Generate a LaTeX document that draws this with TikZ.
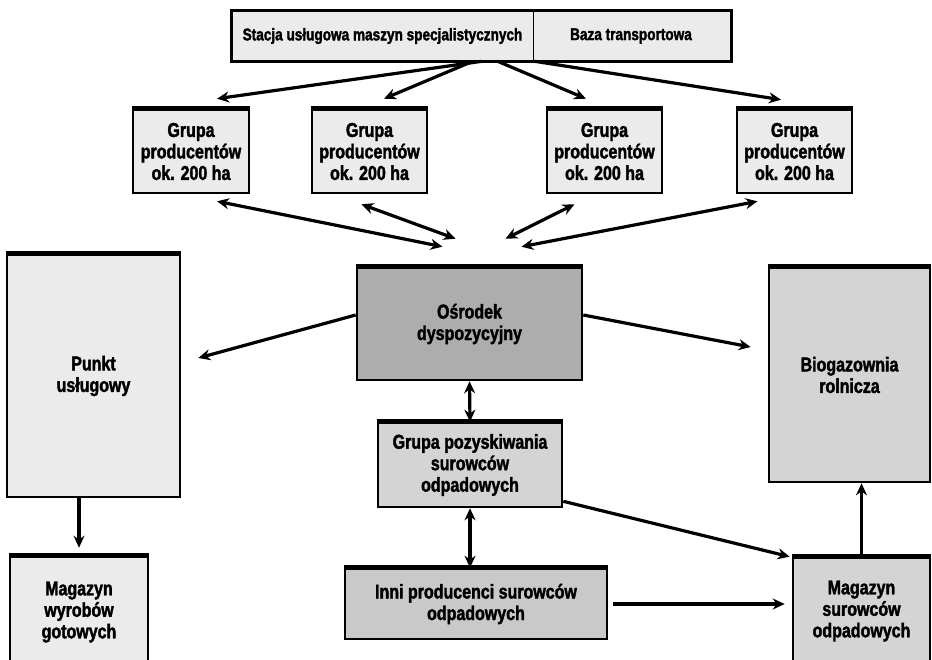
\documentclass[tikz,border=0pt]{standalone}
\usepackage{fontspec}
\setmainfont{Liberation Sans}[BoldFeatures={FakeBold=1.8,FakeStretch=0.8}]
\usepackage{tikz}
\usetikzlibrary{shapes,arrows.meta}

\definecolor{boxlite}{HTML}{EBEBEB}
\definecolor{boxmid}{HTML}{D4D4D4}
\definecolor{boxgrey}{HTML}{C9C9C9}
\definecolor{boxdark}{HTML}{ADADAD}

\begin{document}
\begin{tikzpicture}[x=1pt,y=-1pt]
\tikzstyle{blk}=[draw=black,line width=2.6pt,align=center,inner sep=0pt,font=\fontsize{20}{21.5}\selectfont\bfseries];
\tikzstyle{lite}=[blk,fill=boxlite];
\tikzstyle{mid}=[blk,fill=boxmid];
\tikzstyle{arr}=[line width=3.2pt,-{Stealth[length=12pt,width=11pt]}];
\tikzstyle{darr}=[arr,{Stealth[length=12pt,width=11pt]}-{Stealth[length=12pt,width=11pt]}];

\useasboundingbox (0,0) rectangle (932,659);
\clip (0,0) rectangle (932,659);

% top bar
\node[lite,draw=none,font=\fontsize{17}{18}\selectfont\bfseries,minimum width=299pt,minimum height=48pt] (stacja) at (382.5,36) {Stacja usługowa maszyn specjalistycznych};
\node[lite,draw=none,font=\fontsize{17}{18}\selectfont\bfseries,minimum width=198pt,minimum height=48pt] (baza) at (631,36) {Baza transportowa};
\draw[line width=3.2pt] (stacja.north west) rectangle (baza.south east);
\draw[line width=1pt] (stacja.north east) -- (stacja.south east);

% producer groups
\node[lite,minimum width=116pt,minimum height=83pt] (g1) at (191,151.5) {Grupa\\producentów\\ok. 200 ha};
\node[lite,minimum width=115pt,minimum height=83pt] (g2) at (369.5,151.5) {Grupa\\producentów\\ok. 200 ha};
\node[lite,minimum width=115pt,minimum height=83pt] (g3) at (604.5,151.5) {Grupa\\producentów\\ok. 200 ha};
\node[lite,minimum width=115pt,minimum height=83pt] (g4) at (794.5,151.5) {Grupa\\producentów\\ok. 200 ha};

% middle row
\node[lite,minimum width=173pt,minimum height=242pt] (punkt) at (93.5,376) {Punkt\\usługowy};
\node[blk,fill=boxdark,minimum width=225pt,minimum height=112pt] (osrodek) at (469.5,324) {Ośrodek\\dyspozycyjny};
\node[mid,minimum width=161pt,minimum height=214pt] (biogaz) at (849.5,375) {Biogazownia\\rolnicza};
\node[mid,minimum width=184pt,minimum height=84pt] (pozysk) at (470,465) {Grupa pozyskiwania\\surowców\\odpadowych};

% bottom row
\node[lite,minimum width=138pt,minimum height=110pt] (wyrobow) at (79,612) {Magazyn\\wyrobów\\gotowych};
\node[blk,fill=boxgrey,minimum width=262pt,minimum height=70pt] (inni) at (476,604) {Inni producenci surowców\\odpadowych};
\node[mid,minimum width=137pt,minimum height=106pt] (surowcow) at (861.5,611) {Magazyn\\surowców\\odpadowych};

\foreach \n in {g1,g2,g3,g4,punkt,osrodek,biogaz,pozysk,wyrobow,inni,surowcow}
  \draw[line width=4.5pt] (\n.north west) -- (\n.north east);

% from the top bar
\draw[arr] ([xshift=-49pt]baza.south west) -- ([xshift=26pt,yshift=10pt]g1.north);
\draw[arr] ([xshift=-58pt]baza.south west) -- ([xshift=14.5pt,yshift=10pt]g2.north);
\draw[arr] ([xshift=-33pt]baza.south west) -- ([xshift=-18.5pt,yshift=10pt]g3.north);
\draw[arr] ([xshift=4pt]baza.south west) -- ([xshift=-13.5pt,yshift=9pt]g4.north);

% groups and the dispatch centre
\draw[darr] ([xshift=26pt,yshift=-7pt]g1.south) -- ([xshift=-27pt,yshift=20pt]osrodek.north);
\draw[darr] ([xshift=-8pt,yshift=-10pt]g2.south) -- ([xshift=-14pt,yshift=28pt]osrodek.north);
\draw[darr] ([xshift=-30pt,yshift=-10pt]g3.south) -- ([xshift=36pt,yshift=28pt]osrodek.north);
\draw[darr] ([xshift=-37pt,yshift=-7pt]g4.south) -- ([xshift=52pt,yshift=20pt]osrodek.north);

\draw[arr] ([yshift=9pt]osrodek.west) -- ([xshift=17pt,yshift=18pt]punkt.east);
\draw[arr] ([yshift=9pt]osrodek.east) -- ([xshift=-17pt,yshift=28pt]biogaz.west);
\draw[darr] (osrodek.south) -- (pozysk.north);
\draw[darr] (pozysk.south) -- (pozysk.south |- inni.north);

\draw[arr] ([yshift=7pt]pozysk.south east) -- ([xshift=-2pt]surowcow.north west);
\draw[arr] ([xshift=5pt]inni.east) -- ([xshift=-7pt]inni.east -| surowcow.west);
\draw[arr] (surowcow.north) -- (surowcow.north |- biogaz.south);
\draw[arr] (wyrobow.north |- punkt.south) -- ([yshift=8pt]wyrobow.north);
\end{tikzpicture}
\end{document}
